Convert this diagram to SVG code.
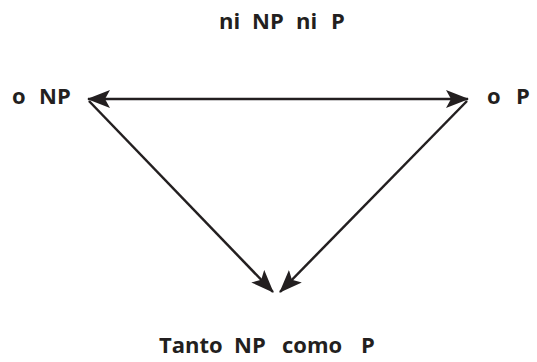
<svg xmlns="http://www.w3.org/2000/svg" width="537" height="362" viewBox="0 0 537 362">
<style>
.lbl{font-family:"Open Sans","Noto Sans",sans-serif;font-weight:bold;font-size:22px;fill:#231f20}
.edge{stroke:#231f20;stroke-width:2.5;fill:none}
</style>
<defs>
<marker id="ah" viewBox="0 0 23 18" refX="22" refY="9" markerWidth="23" markerHeight="18" markerUnits="userSpaceOnUse" orient="auto-start-reverse">
<path d="M0,0 L23,9 L0,18 L5,9 Z" fill="#231f20"/>
</marker>
</defs>
<rect width="537" height="362" fill="#fff"/>
<g id="n-top">
<text class="lbl" x="219" y="29">ni</text>
<text class="lbl" x="252" y="29">NP</text>
<text class="lbl" x="296" y="29">ni</text>
<text class="lbl" x="331" y="29">P</text>
</g>
<g id="n-left">
<text class="lbl" x="12" y="104">o</text>
<text class="lbl" x="39" y="104">NP</text>
</g>
<g id="n-right">
<text class="lbl" x="487" y="104">o</text>
<text class="lbl" x="516" y="104">P</text>
</g>
<g id="n-bottom">
<text class="lbl" x="159" y="353">Tanto</text>
<text class="lbl" x="234" y="353">NP</text>
<text class="lbl" x="282" y="353">como</text>
<text class="lbl" x="361" y="353">P</text>
</g>
<g id="connectors">
<line class="edge" x1="88" y1="99" x2="468" y2="99" marker-start="url(#ah)" marker-end="url(#ah)"/>
<line class="edge" x1="89" y1="101" x2="273" y2="292" marker-end="url(#ah)"/>
<line class="edge" x1="467" y1="101" x2="280" y2="292" marker-end="url(#ah)"/>
</g>
</svg>
